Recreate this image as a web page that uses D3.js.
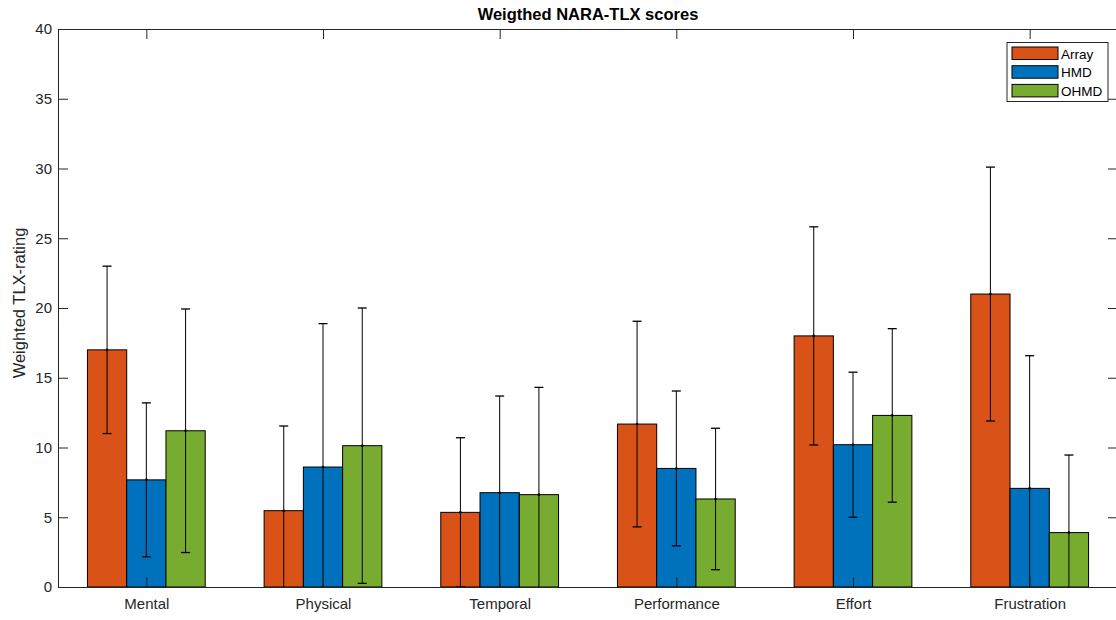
<html>
<head>
  <style>
    body { margin: 0; background: #fff; }
    text { font-family: 'Liberation Sans', Arial, Helvetica, sans-serif; fill: #262626; }
    .title { font-weight: bold; font-size: 16.5px; fill: #000; }
    .ylabel { font-size: 16.5px; }
    .legend text { font-size: 13.5px; fill: #000; }
  </style>
</head>
<body>
  <div id="chart"></div>
  <script src="https://cdn.jsdelivr.net/npm/d3@7"></script>
  <script>

  const categories = ["Mental", "Physical", "Temporal", "Performance", "Effort", "Frustration"];
  const series = ["Array", "HMD", "OHMD"];
  const colours = ["#D95319", "#0072BD", "#77AC30"];

  // mean scores per category
  const arrayMean = [17.0, 5.47, 5.35, 11.68, 18.0, 21.0];
  const hmdMean   = [7.68, 8.6, 6.76, 8.5, 10.2, 7.07];
  const ohmdMean  = [11.2, 10.13, 6.62, 6.31, 12.3, 3.9];

  // symmetric error (std) per category
  const arrayErr = [6.0, 6.07, 5.35, 7.37, 7.82, 9.1];
  const hmdErr   = [5.52, 10.28, 6.93, 5.55, 5.2, 9.51];
  const ohmdErr  = [8.73, 9.87, 7.69, 5.07, 6.22, 5.56];

  const yTicks = [0, 5, 10, 15, 20, 25, 30, 35, 40];

  const means = [arrayMean, hmdMean, ohmdMean];
  const errs = [arrayErr, hmdErr, ohmdErr];

  const W = 1116, H = 620;
  const margin = {top: 29, right: -2, bottom: 33, left: 58};
  const pL = margin.left, pR = W - margin.right,
        pT = margin.top, pB = H - margin.bottom;

  const svg = d3.select("#chart").append("svg")
    .attr("width", W).attr("height", H);

  svg.append("defs").append("clipPath").attr("id", "plotclip")
    .append("rect").attr("x", pL).attr("y", pT)
    .attr("width", pR - pL).attr("height", pB - pT);

  const x = d3.scaleLinear().domain([0.5, categories.length + 0.5]).range([pL, pR]);
  const y = d3.scaleLinear().domain([0, 40]).range([pB, pT]);

  const barW = 0.2222;

  // flatten into one row per bar
  const bars = [];
  series.forEach((s, j) => {
    categories.forEach((c, i) => {
      bars.push({s: j, c: i, v: means[j][i], e: errs[j][i], cx: i + 1 + (j - 1) * barW});
    });
  });

  const plot = svg.append("g").attr("clip-path", "url(#plotclip)");

  plot.selectAll("rect.bar")
    .data(bars)
    .join("rect")
      .attr("class", "bar")
      .attr("x", d => x(d.cx - barW / 2))
      .attr("width", d => x(d.cx + barW / 2) - x(d.cx - barW / 2))
      .attr("y", d => y(d.v))
      .attr("height", d => y(0) - y(d.v))
      .attr("fill", d => colours[d.s])
      .attr("stroke", "#000")
      .attr("stroke-width", 1);

  // error bars
  const eb = plot.selectAll("g.err").data(bars).join("g").attr("class", "err");
  eb.append("line")
    .attr("x1", d => x(d.cx)).attr("x2", d => x(d.cx))
    .attr("y1", d => y(d.v - d.e)).attr("y2", d => y(d.v + d.e))
    .attr("stroke", "#000").attr("stroke-width", 1);
  eb.append("line")
    .attr("x1", d => x(d.cx) - 4.5).attr("x2", d => x(d.cx) + 4.5)
    .attr("y1", d => y(d.v + d.e)).attr("y2", d => y(d.v + d.e))
    .attr("stroke", "#000").attr("stroke-width", 1.3);
  eb.append("line")
    .attr("x1", d => x(d.cx) - 4.5).attr("x2", d => x(d.cx) + 4.5)
    .attr("y1", d => y(d.v - d.e)).attr("y2", d => y(d.v - d.e))
    .attr("stroke", "#000").attr("stroke-width", 1.3);
  eb.append("circle")
    .attr("cx", d => x(d.cx)).attr("cy", d => y(d.v)).attr("r", 1.3)
    .attr("fill", "#000");

  // axes box with inward ticks on all sides
  const axisCol = "#262626";
  const tl = 10;

  const yL = svg.append("g").attr("transform", `translate(${pL},0)`)
    .call(d3.axisLeft(y).tickValues(yTicks).tickSizeInner(-tl).tickSizeOuter(0).tickPadding(6));
  const yR = svg.append("g").attr("transform", `translate(${pR},0)`)
    .call(d3.axisRight(y).tickValues(yTicks).tickSizeInner(-tl).tickSizeOuter(0).tickFormat(""));
  const xB = svg.append("g").attr("transform", `translate(0,${pB})`)
    .call(d3.axisBottom(x).tickValues(d3.range(1, categories.length + 1))
      .tickFormat(d => categories[d - 1]).tickSizeInner(-tl).tickSizeOuter(0).tickPadding(11));
  const xT = svg.append("g").attr("transform", `translate(0,${pT})`)
    .call(d3.axisTop(x).tickValues(d3.range(1, categories.length + 1))
      .tickFormat("").tickSizeInner(-tl).tickSizeOuter(0));

  [yL, yR, xB, xT].forEach(g => {
    g.selectAll("path.domain").attr("stroke", axisCol).attr("stroke-width", 1);
    g.selectAll(".tick line").attr("stroke", axisCol).attr("stroke-width", 1);
    g.selectAll(".tick text").attr("fill", axisCol)
      .style("font-family", "'Liberation Sans', Arial, sans-serif").style("font-size", "15px");
  });

  // title and y label
  svg.append("text").attr("class", "title")
    .attr("x", (pL + pR) / 2).attr("y", 20)
    .attr("text-anchor", "middle")
    .text("Weigthed NARA-TLX scores");

  svg.append("text").attr("class", "ylabel")
    .attr("transform", "translate(25,303) rotate(-90)")
    .attr("text-anchor", "middle")
    .text("Weighted TLX-rating");

  // legend
  const lg = svg.append("g").attr("class", "legend").attr("transform", "translate(1007,42.5)");
  lg.append("rect").attr("width", 101).attr("height", 59)
    .attr("fill", "#fff").attr("stroke", axisCol).attr("stroke-width", 1);
  series.forEach((s, j) => {
    const row = lg.append("g").attr("transform", `translate(0,${4.5 + j * 18.7})`);
    row.append("rect").attr("x", 5).attr("width", 46).attr("height", 12.5)
      .attr("fill", colours[j]).attr("stroke", "#000").attr("stroke-width", 1);
    row.append("text").attr("x", 54).attr("y", 11.5).text(s);
  });

  </script>
</body>
</html>
